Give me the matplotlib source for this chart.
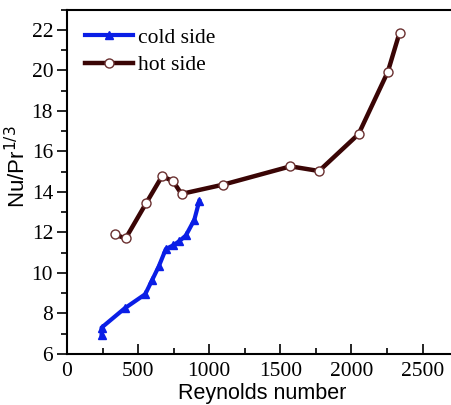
import matplotlib.pyplot as plt
from matplotlib.ticker import MultipleLocator

# hot side (open circles) and cold side (triangles)
hot_re = [337, 412, 557, 669, 746, 805, 1100, 1571, 1772, 2050, 2256, 2338]
hot_nu = [11.90, 11.70, 13.45, 14.78, 14.52, 13.90, 14.36, 15.26, 15.03, 16.85, 19.93, 21.85]

cold_re = [243, 243, 405, 550, 600, 645, 695, 746, 790, 836, 895, 930]
cold_nu = [6.92, 7.30, 8.25, 8.95, 9.67, 10.32, 11.18, 11.36, 11.57, 11.85, 12.62, 13.55]

serif = "Liberation Serif"
sans = "Liberation Sans"

fig = plt.figure(figsize=(4.51, 4.05), dpi=100)
ax = fig.add_axes([0.1486, 0.126, 0.8514, 0.8505])

ax.plot(cold_re, cold_nu, color="#0a1ee6", lw=3, marker="^", ms=6,
        mfc="#0a1ee6", mec="#0a1ee6", label="cold side", zorder=3)
ax.plot(hot_re, hot_nu, color="#3a0505", lw=3.2, marker="o", ms=6.5,
        mfc="white", mec="#6a3030", mew=1.0, label="hot side", zorder=4)

ax.set_xlim(0, 2700)
ax.set_ylim(6, 23)
ax.xaxis.set_major_locator(MultipleLocator(500))
ax.xaxis.set_minor_locator(MultipleLocator(250))
ax.yaxis.set_major_locator(MultipleLocator(2))
ax.yaxis.set_minor_locator(MultipleLocator(1))

ax.tick_params(axis="x", which="both", direction="in", top=False, pad=6)
ax.tick_params(axis="y", which="both", direction="out", right=False, pad=3)
ax.tick_params(which="major", length=7, width=1.2, labelsize=15.5)
ax.tick_params(which="minor", length=4, width=1.2)
for lab in ax.get_xticklabels() + ax.get_yticklabels():
    lab.set_fontfamily(serif)

for side in ["left", "bottom", "top"]:
    ax.spines[side].set_linewidth(1.5)
ax.spines["right"].set_visible(False)

ax.set_xlabel("Reynolds number", fontsize=15.5, family=sans)
ax.xaxis.set_label_coords(0.508, -0.084)
ax.set_ylabel(r"Nu/Pr$^{1/3}$", fontsize=16, family=sans)
ax.yaxis.set_label_coords(-0.096, 0.545)

leg = ax.legend(loc="upper left", frameon=False, prop={"family": serif, "size": 15.5},
                handlelength=2.2, handletextpad=0.25, labelspacing=0.35,
                borderaxespad=0.45, borderpad=0.4)

fig.savefig("out.png", dpi=100)
